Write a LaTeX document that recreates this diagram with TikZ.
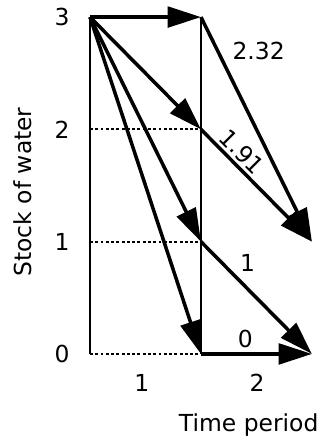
\documentclass[tikz,border=0pt]{standalone}
\usepackage{fontspec}
\setmainfont{DejaVu Sans}
\usetikzlibrary{arrows.meta}
\begin{document}
\begin{tikzpicture}[x=3.33cm,y=3.37cm,every node/.style={font=\fontsize{20}{24}\selectfont},
  flow/.style={line width=3pt,-{Triangle[length=1cm,width=0.62cm]}},
  grid line/.style={line width=1.5pt,dash pattern=on 2.5pt off 2pt}]
\useasboundingbox (-0.811,-0.775) rectangle (2.081,3.152);
\coordinate (t0s3) at (0,3);
\coordinate (t0s0) at (0,0);
\coordinate (t1s3) at (1,3);
\coordinate (t1s2) at (1,2);
\coordinate (t1s1) at (1,1);
\coordinate (t1s0) at (1,0);
\coordinate (t2s1) at (2,1);
\coordinate (t2s0) at (2,0);
% frame
\draw[line width=2.4pt] (t0s3) -- (t0s0);
\draw[line width=1.5pt] (t1s3) -- (t1s0);
\draw[grid line] (0,2) -- (t1s2);
\draw[grid line] (0,1) -- (t1s1);
\draw[grid line] (t0s0) -- (t1s0);
% first period
\draw[flow] (t0s3) -- (t1s3);
\draw[flow] (t0s3) -- (t1s2);
\draw[flow] (t0s3) -- (t1s1);
\draw[flow] (t0s3) -- (t1s0);
% second period
\draw[flow] (t1s3) -- (t2s1);
\draw[flow] (t1s2) -- (t2s1);
\draw[flow] (t1s1) -- (t2s0);
\draw[flow] (t1s0) -- (t2s0);
\node (v232) at (1.52,2.70) {2.32};
\node[rotate=-45] (v191) at (1.37,1.80) {1.91};
\node (v1) at (1.42,0.81) {1};
\node (v0) at (1.40,0.13) {0};
% axes
\node (s3) at (-0.252,3) {3};
\node (s2) at (-0.252,2) {2};
\node (s1) at (-0.252,1) {1};
\node (s0) at (-0.252,0) {0};
\node (p1) at (0.468,-0.258) {1};
\node (p2) at (1.505,-0.258) {2};
\node (tlab) at (1.43,-0.632) {Time period};
\node[rotate=90] (slab) at (-0.61,1.443) {Stock of water};
\end{tikzpicture}
\end{document}
